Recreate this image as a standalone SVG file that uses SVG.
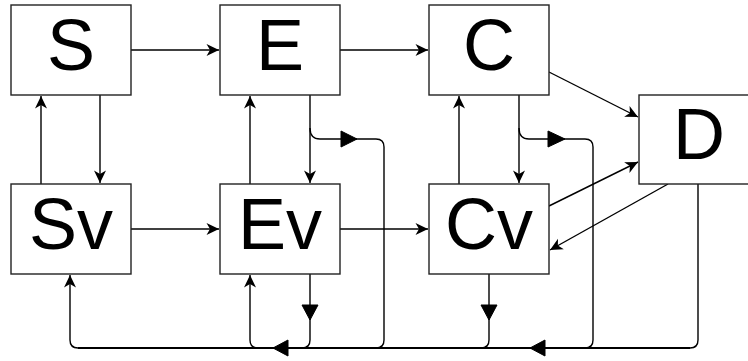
<svg xmlns="http://www.w3.org/2000/svg" width="748" height="361" viewBox="0 0 748 361">
<style>
.box{fill:#fff;stroke:#222;stroke-width:1.4}
.lbl{font-family:"Liberation Sans",Arial,sans-serif;font-size:72px;fill:#000;text-anchor:middle}
.e{fill:none;stroke:#000;stroke-width:1.4}
.tri{fill:#000;stroke:#000;stroke-width:1}
</style>
<defs>
<marker id="a" viewBox="-14 -7 15 14" refX="0" refY="0" markerWidth="15" markerHeight="14" markerUnits="userSpaceOnUse" orient="auto">
<path d="M0,0 L-12.5,-6 L-9,0 L-12.5,6 Z" fill="#000"/>
</marker>
</defs>
<g id="connectors">
<path class="e" d="M131,50 L219,50" marker-end="url(#a)"/>
<path class="e" d="M340,50 L428,50" marker-end="url(#a)"/>
<path class="e" d="M549,72 L638,117" marker-end="url(#a)"/>
<path class="e" d="M549,206 L638,162" marker-end="url(#a)"/>
<path class="e" d="M668,184 L550,250" marker-end="url(#a)"/>
<path class="e" d="M100,95 L100,183" marker-end="url(#a)"/>
<path class="e" d="M41,184 L41,96" marker-end="url(#a)"/>
<path class="e" d="M310,95 L310,183" marker-end="url(#a)"/>
<path class="e" d="M250,184 L250,96" marker-end="url(#a)"/>
<path class="e" d="M519,95 L519,183" marker-end="url(#a)"/>
<path class="e" d="M459,184 L459,96" marker-end="url(#a)"/>
<path class="e" d="M131,229 L219,229" marker-end="url(#a)"/>
<path class="e" d="M340,229 L428,229" marker-end="url(#a)"/>
<path class="e" d="M310,128 Q310,139 320,139 L376,139 Q384,139 384,147 L384,340 Q384,348 376,348 L78,348 Q70,348 70,340 L70,275" marker-end="url(#a)"/>
<path class="e" d="M310,274 L310,340 Q310,348 302,348 L258,348 Q250,348 250,340 L250,275" marker-end="url(#a)"/>
<path class="e" d="M519,128 Q519,139 529,139 L585,139 Q593,139 593,147 L593,340 Q593,348 585,348 L258,348"/>
<path class="e" d="M489,274 L489,340 Q489,348 481,348 L300,348"/>
<path class="e" d="M698,184 L698,340 Q698,348 690,348 L480,348"/>
<path class="e" style="stroke-width:2.2" d="M78,348 L690,348"/>
<path class="tri" d="M341,131 L357,139 L341,147 Z"/>
<path class="tri" d="M548,131 L565,139 L548,147 Z"/>
<path class="tri" d="M302,305 L318,305 L310,320 Z"/>
<path class="tri" d="M481,305 L497,305 L489,320 Z"/>
<path class="tri" d="M288,340 L288,356 L273,348 Z"/>
<path class="tri" d="M545,340 L545,356 L530,348 Z"/>
</g>
<g id="S"><rect class="box" x="11" y="5" width="120" height="90"/><text class="lbl" x="71" y="70">S</text></g>
<g id="E"><rect class="box" x="220" y="5" width="120" height="90"/><text class="lbl" x="280" y="70">E</text></g>
<g id="C"><rect class="box" x="429" y="5" width="120" height="90"/><text class="lbl" x="489" y="70">C</text></g>
<g id="D"><rect class="box" x="639" y="95" width="120" height="89"/><text class="lbl" x="699" y="159">D</text></g>
<g id="Sv"><rect class="box" x="11" y="184" width="120" height="90"/><text class="lbl" x="71" y="249">Sv</text></g>
<g id="Ev"><rect class="box" x="220" y="184" width="120" height="90"/><text class="lbl" x="280" y="249">Ev</text></g>
<g id="Cv"><rect class="box" x="429" y="184" width="120" height="90"/><text class="lbl" x="489" y="249">Cv</text></g>
</svg>
